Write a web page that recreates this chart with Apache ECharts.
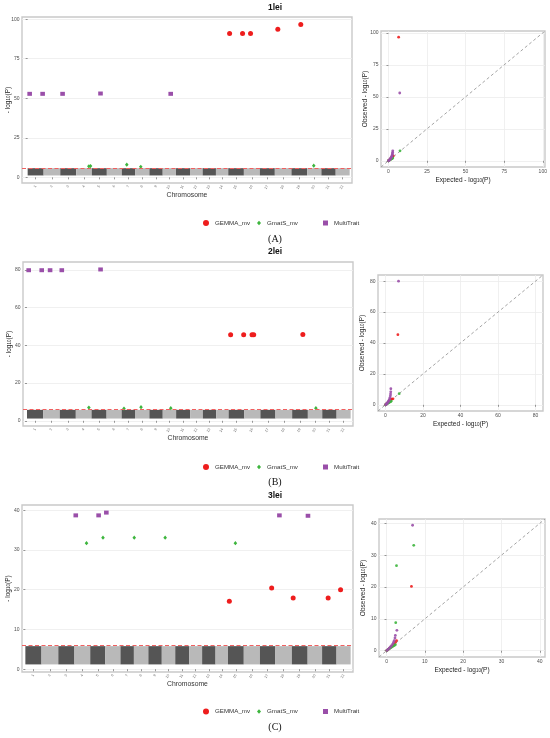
<!DOCTYPE html>
<html>
<head>
<meta charset="utf-8">
<script src="https://cdn.jsdelivr.net/npm/echarts@6/dist/echarts.min.js"></script>
<style>
html, body { margin: 0; padding: 0; background: #fff; }
#chart { width: 550px; height: 738px; }
</style>
</head>
<body>
<div id="chart"></div>
<script>
// chromosomes and their (relative) lengths, same units as the hit positions
const chromosomes = ['1','2','3','4','5','6','7','8','9','10','11','12','13','14','15','16','17','18','19','20','21','22'];
const chromLength = [48, 50, 48, 47, 45, 45, 40, 43, 40, 40, 42, 38, 40, 37, 47, 48, 45, 50, 47, 43, 43, 42];
const methods = ['GEMMA_mv', 'GmatS_mv', 'MultiTrait'];
const threshold = 6;
// range of the dense cloud of non significant SNPs
const cloudLow = 1.2;
const cloudHigh = 5.8;

// tick labels
const ticksA = [0, 25, 50, 75, 100];
const ticksB = [0, 20, 40, 60, 80];
const ticksC = [0, 10, 20, 30, 40];

// ---- 1lei : manhattan hits (x = genome position, y = -log10 P)
const aGemmaX = [607, 646, 670, 752, 821];
const aGemmaY = [90.9, 90.9, 90.9, 93.7, 96.6];
const aGmatsX = [184, 189, 298, 340, 860];
const aGmatsY = [7.0, 7.1, 8.0, 6.7, 7.4];
const aMultiX = [6, 45, 105, 219, 430];
const aMultiY = [52.8, 52.8, 52.8, 53.0, 52.8];

// ---- 2lei
const bGemmaX = [609, 648, 673, 678, 825];
const bGemmaY = [45.6, 45.6, 45.6, 45.6, 45.7];
const bGmatsX = [185, 290, 341, 430, 864];
const bGmatsY = [7.0, 6.5, 7.2, 6.7, 6.7];
const bMultiX = [5, 44, 69, 104, 220];
const bMultiY = [79.8, 79.8, 79.8, 79.8, 80.2];

// ---- 3lei
const cGemmaX = [607, 733, 797, 901, 938];
const cGemmaY = [17.1, 20.4, 17.9, 17.9, 20.0];
const cGmatsX = [182, 231, 324, 416, 625];
const cGmatsY = [31.7, 33.1, 33.1, 33.1, 31.7];
const cMultiX = [150, 218, 241, 756, 841];
const cMultiY = [38.7, 38.7, 39.4, 38.7, 38.6];

// ---- QQ plots: expected / observed -log10 P
const aQqGemmaE = [0.1, 0.4, 0.8, 1.2, 1.6, 2.0, 2.4, 2.8, 3.1, 6.6];
const aQqGemmaO = [0.1, 0.4, 0.8, 1.3, 1.8, 2.3, 2.8, 3.3, 3.9, 96.6];
const aQqGmatsE = [0.1, 0.4, 0.8, 1.2, 1.6, 2.0, 2.4, 2.8, 7.5];
const aQqGmatsO = [0.1, 0.4, 0.7, 1.0, 1.3, 1.6, 1.9, 2.2, 7.8];
const aQqMultiE = [0.1, 0.4, 0.7, 1.0, 1.3, 1.6, 1.9, 2.1, 2.3, 2.5, 2.6, 2.7, 2.8, 7.3];
const aQqMultiO = [0.1, 0.4, 0.8, 1.2, 1.7, 2.2, 2.8, 3.3, 4.0, 4.8, 5.6, 6.6, 7.8, 53.0];

const bQqGemmaE = [0.1, 0.4, 0.8, 1.2, 1.6, 2.0, 2.4, 2.8, 3.3, 4.0, 6.6];
const bQqGemmaO = [0.1, 0.4, 0.8, 1.3, 1.8, 2.3, 2.8, 3.3, 3.7, 3.9, 45.4];
const bQqGmatsE = [0.1, 0.4, 0.8, 1.2, 1.6, 2.0, 2.4, 2.8, 3.1, 7.3];
const bQqGmatsO = [0.1, 0.4, 0.7, 1.0, 1.3, 1.6, 1.9, 2.2, 2.4, 7.2];
const bQqMultiE = [0.1, 0.4, 0.7, 1.0, 1.3, 1.6, 1.9, 2.2, 2.4, 2.6, 2.7, 2.8, 2.85, 6.95];
const bQqMultiO = [0.1, 0.4, 0.8, 1.2, 1.7, 2.3, 3.0, 3.8, 4.7, 5.8, 7.0, 8.4, 10.4, 80.0];

const cQqGemmaE = [0.1, 0.4, 0.8, 1.2, 1.6, 2.0, 2.3, 2.6, 6.5];
const cQqGemmaO = [0.1, 0.4, 0.8, 1.2, 1.6, 2.1, 2.6, 3.2, 20.2];
const cQqGmatsE = [0.1, 0.4, 0.8, 1.2, 1.6, 2.0, 2.3, 2.4, 2.6, 7.1];
const cQqGmatsO = [0.1, 0.4, 0.7, 1.0, 1.3, 1.6, 1.9, 8.8, 26.7, 33.1];
const cQqMultiE = [0.1, 0.4, 0.7, 1.0, 1.3, 1.6, 1.8, 2.0, 2.2, 2.3, 2.7, 6.8];
const cQqMultiO = [0.1, 0.4, 0.8, 1.2, 1.6, 2.1, 2.6, 3.2, 4.0, 4.8, 6.4, 39.4];

// ---------------------------------------------------------------
const font = 'Liberation Sans';
const colors = { GEMMA_mv: '#ee1d1d', GmatS_mv: '#3db53d', MultiTrait: '#9a4fa9' };
const symbols = { GEMMA_mv: 'circle', GmatS_mv: 'diamond', MultiTrait: 'rect' };
const manSize = { GEMMA_mv: 5, GmatS_mv: [3.6, 4.2], MultiTrait: [4.6, 4] };
const legSize = { GEMMA_mv: [6, 6], GmatS_mv: [4, 4.5], MultiTrait: [5, 5] };

const starts = [];
let total = 0;
chromLength.forEach(function (l) { starts.push(total); total += l; });
const centers = starts.map(function (s, i) { return s + chromLength[i] / 2; });
const cloud = starts.map(function (s, i) { return [s, s + chromLength[i], cloudLow, cloudHigh, i]; });

function zip(xs, ys) { return xs.map(function (x, i) { return [x, ys[i]]; }); }

// positions of each panel row
const panels = [
    { title: '1lei', titleY: 8, tag: '(A)', tagY: 240, legendY: 224, ticks: ticksA,
      man: { left: 22, top: 17, width: 330, height: 166, xmin: -17 },
      qq: { left: 381, top: 31, width: 164, height: 136 },
      hits: [[aGemmaX, aGemmaY], [aGmatsX, aGmatsY], [aMultiX, aMultiY]],
      qqd: [[aQqGemmaE, aQqGemmaO], [aQqGmatsE, aQqGmatsO], [aQqMultiE, aQqMultiO]] },
    { title: '2lei', titleY: 252, tag: '(B)', tagY: 483, legendY: 468, ticks: ticksB,
      man: { left: 23, top: 262, width: 330, height: 164, xmin: -12 },
      qq: { left: 378, top: 275, width: 165, height: 136 },
      hits: [[bGemmaX, bGemmaY], [bGmatsX, bGmatsY], [bMultiX, bMultiY]],
      qqd: [[bQqGemmaE, bQqGemmaO], [bQqGmatsE, bQqGmatsO], [bQqMultiE, bQqMultiO]] },
    { title: '3lei', titleY: 496, tag: '(C)', tagY: 728, legendY: 712.5, ticks: ticksC,
      man: { left: 22, top: 505, width: 331, height: 167, xmin: -10 },
      qq: { left: 379, top: 519, width: 166, height: 138 },
      hits: [[cGemmaX, cGemmaY], [cGmatsX, cGmatsY], [cMultiX, cMultiY]],
      qqd: [[cQqGemmaE, cQqGemmaO], [cQqGmatsE, cQqGmatsO], [cQqMultiE, cQqMultiO]] }
];

const logName = function (prefix) {
    return '{n|' + prefix + '- log}{s|10}{n|(P)}';
};
const nameRich = {
    n: { fontSize: 6.5, fontFamily: font, color: '#222', lineHeight: 7, verticalAlign: 'middle' },
    s: { fontSize: 4.5, fontFamily: font, color: '#222', lineHeight: 7, verticalAlign: 'bottom' }
};
const tickLabel = { fontSize: 5, color: '#4d4d4d', fontFamily: font, margin: 2.5 };
const tickStyle = { show: true, length: 2, lineStyle: { color: '#555', width: 0.6 } };
const gridLine = { show: true, lineStyle: { color: '#ececec', width: 0.8 } };

const grid = [], xAxis = [], yAxis = [], series = [], legend = [], graphic = [];

panels.forEach(function (p, k) {
    const gm = 2 * k, gq = 2 * k + 1;

    // y range like ggplot: 5% of the data range each side
    let hi = cloudLow, lo = cloudLow;
    p.hits.forEach(function (h) { h[1].forEach(function (v) { hi = Math.max(hi, v); }); });
    const pad = (hi - lo) * 0.05;

    let qmax = 0;
    p.qqd.forEach(function (q) { q[1].forEach(function (v) { qmax = Math.max(qmax, v); }); });
    const qpad = qmax * 0.05;

    [p.man, p.qq].forEach(function (g) {
        grid.push({ left: g.left, top: g.top, width: g.width, height: g.height,
            outerBoundsMode: 'none', containLabel: false,
            show: true, borderColor: '#c9c9c9', borderWidth: 1.4, backgroundColor: '#fff' });
    });

    // manhattan axes
    xAxis.push({
        gridIndex: gm, type: 'value', min: p.man.xmin, max: total + 7,
        name: 'Chromosome', nameLocation: 'middle', nameGap: 8.5, nameMoveOverlap: false,
        nameTextStyle: { fontSize: 6.8, color: '#333', fontFamily: font },
        axisLine: { show: false }, splitLine: { show: false },
        axisTick: Object.assign({ customValues: centers }, tickStyle),
        axisLabel: { customValues: centers, fontSize: 3.6, color: '#666', rotate: 60, margin: 2.5,
            fontFamily: font,
            formatter: function (v) { return chromosomes[centers.indexOf(v)]; } }
    });
    yAxis.push({
        gridIndex: gm, type: 'value', min: lo - pad, max: hi + pad,
        name: logName(''), nameLocation: 'middle', nameGap: 10.5, nameMoveOverlap: false,
        nameTextStyle: { rich: nameRich },
        axisLine: { show: false }, splitLine: gridLine,
        axisTick: Object.assign({ customValues: p.ticks }, tickStyle),
        axisLabel: Object.assign({ customValues: p.ticks }, tickLabel)
    });

    // qq axes
    xAxis.push({
        gridIndex: gq, type: 'value', min: -qpad, max: qmax + qpad,
        name: logName('Expected '), nameLocation: 'middle', nameGap: 9.5, nameMoveOverlap: false,
        nameTextStyle: { rich: nameRich },
        axisLine: { show: false }, splitLine: gridLine,
        axisTick: Object.assign({ customValues: p.ticks }, tickStyle),
        axisLabel: Object.assign({ customValues: p.ticks }, tickLabel)
    });
    yAxis.push({
        gridIndex: gq, type: 'value', min: -qpad, max: qmax + qpad,
        name: logName('Observed '), nameLocation: 'middle', nameGap: 12.5, nameMoveOverlap: false,
        nameTextStyle: { rich: nameRich },
        axisLine: { show: false }, splitLine: gridLine,
        axisTick: Object.assign({ customValues: p.ticks }, tickStyle),
        axisLabel: Object.assign({ customValues: p.ticks }, tickLabel)
    });

    // SNP cloud per chromosome + threshold line
    series.push({
        type: 'custom', xAxisIndex: gm, yAxisIndex: gm, data: cloud, silent: true,
        renderItem: function (params, api) {
            const a = api.coord([api.value(0), api.value(3)]);
            const b = api.coord([api.value(1), api.value(2)]);
            return { type: 'rect', shape: { x: a[0], y: a[1], width: b[0] - a[0], height: b[1] - a[1] },
                style: { fill: api.value(4) % 2 ? '#b9b9b9' : '#555555' } };
        },
        markLine: { silent: true, symbol: 'none', label: { show: false },
            lineStyle: { color: '#f06060', type: [4, 2.5], width: 1.2 },
            data: [{ yAxis: threshold }] },
        z: 1
    });

    methods.forEach(function (m, i) {
        series.push({
            name: m, type: 'scatter', xAxisIndex: gm, yAxisIndex: gm,
            data: zip(p.hits[i][0], p.hits[i][1]),
            symbol: symbols[m], symbolSize: manSize[m],
            itemStyle: { color: colors[m], opacity: 1 }, z: 3
        });
    });

    // qq: diagonal then points
    series.push({
        type: 'line', xAxisIndex: gq, yAxisIndex: gq, silent: true,
        data: [[-qpad, -qpad], [qmax + qpad, qmax + qpad]], symbol: 'none',
        lineStyle: { color: '#9a9a9a', type: [3, 2.5], width: 0.9 }, z: 2
    });
    methods.forEach(function (m, i) {
        series.push({
            name: m, type: 'scatter', xAxisIndex: gq, yAxisIndex: gq,
            data: zip(p.qqd[i][0], p.qqd[i][1]),
            symbol: 'circle', symbolSize: 2.8,
            itemStyle: { color: colors[m], opacity: 0.9 }, z: 3
        });
    });

    // legend: one component per key so each can sit where it is in the figure
    const legLeft = [203, 257, 323];
    methods.forEach(function (m, i) {
        legend.push({
            data: [{ name: m, icon: symbols[m] }], selectedMode: false,
            left: legLeft[i], top: p.legendY - 4, itemWidth: legSize[m][0], itemHeight: legSize[m][1],
            itemGap: 0, padding: 0,
            textStyle: { fontSize: 6.2, color: '#333', fontFamily: font, padding: [0, 0, 0, 1] }
        });
    });

    graphic.push({ type: 'text', left: 'center', top: p.titleY - 5,
        style: { text: p.title, fontSize: 8.5, fontWeight: 'bold', fontFamily: font, fill: '#111' } });
    graphic.push({ type: 'text', left: 'center', top: p.tagY - 6,
        style: { text: p.tag, fontSize: 10, fontFamily: 'Liberation Serif', fill: '#111' } });
});

const chart = echarts.init(document.getElementById('chart'), null, { renderer: 'canvas' });
chart.setOption({
    animation: false,
    backgroundColor: '#fff',
    grid: grid, xAxis: xAxis, yAxis: yAxis,
    legend: legend, graphic: graphic, series: series
});
</script>
</body>
</html>
